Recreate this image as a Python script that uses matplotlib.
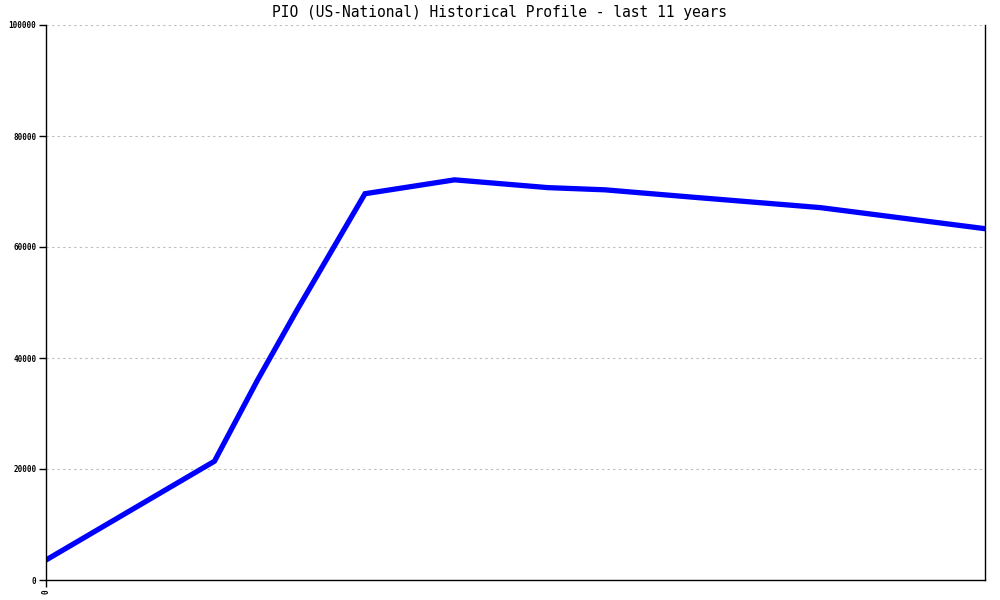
import matplotlib
matplotlib.use("Agg")
import matplotlib.pyplot as plt

# month index over the 11-year window, and the profile value at each bend
MONTHS = [0, 23.5, 29.5, 35, 44.5, 57, 70, 78, 90, 108, 131]
VALUES = [3600, 21400, 36000, 48600, 69600, 72100, 70700, 70300, 69000, 67100, 63300]
Y_TICKS = [0, 20000, 40000, 60000, 80000, 100000]
TITLE = "PIO (US-National) Historical Profile - last 11 years"

fig = plt.figure(figsize=(10, 6), dpi=100)
ax = fig.add_axes([0.046, 20 / 600, 0.939, 555 / 600])

ax.plot(MONTHS, VALUES, color="#0000FF", linewidth=3.8, solid_joinstyle="miter")

ax.set_xlim(0, 131)
ax.set_ylim(0, 100000)
ax.set_yticks(Y_TICKS)
ax.set_yticklabels([str(v) for v in Y_TICKS], fontsize=5.5,
                   family="DejaVu Sans Mono", fontweight="bold")
ax.set_xticks([0])
ax.set_xticklabels(["0"], fontsize=5.5, family="DejaVu Sans Mono",
                   fontweight="bold", rotation=90)
ax.tick_params(axis="both", direction="out", length=5, width=1, pad=2)

ax.grid(axis="y", color="#BBBBBB", linestyle=(0, (2, 3)), linewidth=0.8)
ax.set_axisbelow(True)
ax.spines["top"].set_visible(False)
for s in ("left", "bottom", "right"):
    ax.spines[s].set_color("black")
    ax.spines[s].set_linewidth(1)

fig.text(0.5, 1 - 13 / 600, TITLE, ha="center", va="center",
         fontsize=10.5, family="DejaVu Sans Mono")

plt.savefig("out.png", dpi=100)
plt.close()
